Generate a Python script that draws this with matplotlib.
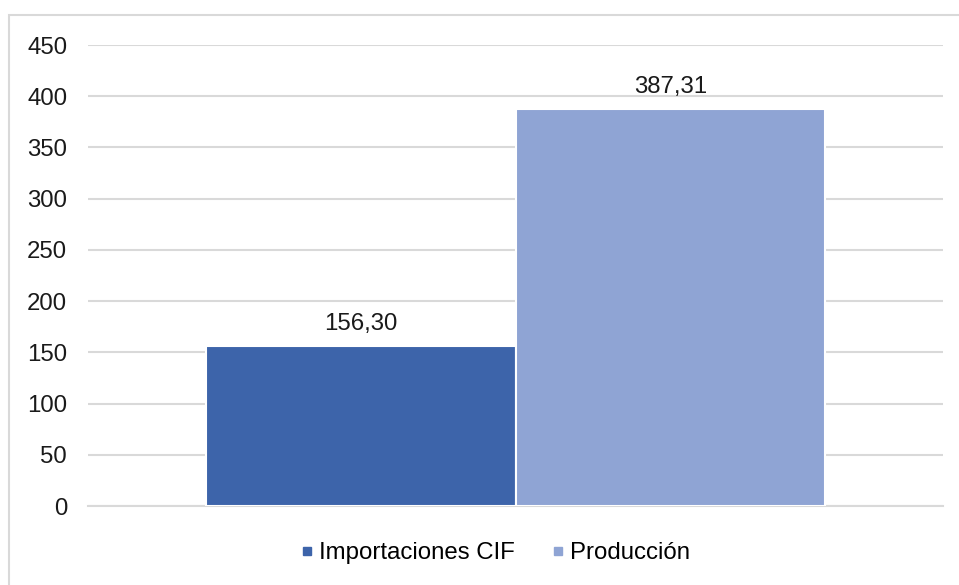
import matplotlib.pyplot as plt
from matplotlib.patches import Rectangle
from matplotlib.lines import Line2D

# data
series = ["Importaciones CIF", "Producción"]
values = [156.30, 387.31]
labels = ["156,30", "387,31"]
colors = ["#3D64AA", "#8FA4D4"]
yticks = [0, 50, 100, 150, 200, 250, 300, 350, 400, 450]

plt.rcParams['font.family'] = ['Liberation Sans', 'DejaVu Sans']
fs = 17.3

fig = plt.figure(figsize=(9.59, 5.85), dpi=100)
ax = fig.add_axes([0.0918, 0.135, 0.8915, 0.788])

# outer frame, only left/top visible in the reference
fig.patches.append(Rectangle((9 / 959, -0.1), 1.2, 1 - 15 / 585 + 0.1,
                             transform=fig.transFigure, fill=False,
                             edgecolor="#D9D9D9", linewidth=1.5))

w = 0.362
offsets = [-w / 2, w / 2]
for i in range(len(series)):
    ax.bar(offsets[i], values[i], width=w, color=colors[i], edgecolor="white",
           linewidth=1.5, zorder=3)
    ax.annotate(labels[i], (offsets[i], values[i]), xytext=(0, 8),
                textcoords="offset points", ha="center", va="bottom",
                fontsize=fs, color="#1a1a1a")

ax.set_xlim(-0.5, 0.5)
ax.set_ylim(0, 450)
ax.set_yticks(yticks)
ax.set_xticks([])
ax.yaxis.grid(True, color="#D9D9D9", linewidth=1.5, zorder=0)
for s in ["top", "right", "left"]:
    ax.spines[s].set_visible(False)
ax.spines["bottom"].set_color("#D9D9D9")
ax.spines["bottom"].set_linewidth(1.5)
ax.tick_params(axis="y", length=0, pad=15, labelsize=fs, labelcolor="#1a1a1a")

handles = [Line2D([], [], marker="s", linestyle="", markersize=5.5, color=c) for c in colors]
fig.legend(handles, series, loc="center", bbox_to_anchor=(0.517, 1 - 553 / 585), ncol=2,
           frameon=False, fontsize=fs, handlelength=0.4,
           handletextpad=0.3, columnspacing=1.6)

fig.savefig("out.png", dpi=100)
